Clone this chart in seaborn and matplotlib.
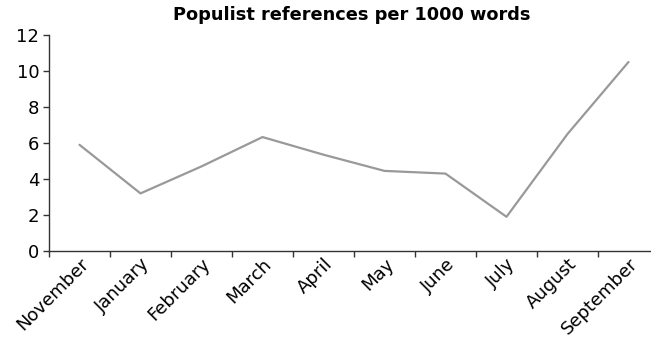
import matplotlib
matplotlib.use("Agg")
import matplotlib.pyplot as plt
import seaborn as sns
import pandas as pd
import numpy as np

months = ["November", "January", "February", "March", "April",
          "May", "June", "July", "August", "September"]
references_per_1000 = [5.9, 3.2, 4.7, 6.33, 5.35, 4.45, 4.3, 1.9, 6.5, 10.5]
y_ticks = [0, 2, 4, 6, 8, 10, 12]

df = pd.DataFrame({"month": months, "value": references_per_1000})

sns.set_theme(style="white")
plt.rcParams["font.family"] = ["DejaVu Sans"]
plt.rcParams["text.color"] = "black"

W, H = 651, 343
fig = plt.figure(figsize=(W / 100, H / 100), dpi=100)
ax = fig.add_axes([49 / W, (H - 251) / H, 610 / W, 216 / H])

sns.lineplot(data=df, x="month", y="value", sort=False, ax=ax,
             color="#999999", linewidth=1.6)

ax.set_xlim(-0.5, len(months) - 0.5)
ax.set_ylim(0, 12)
ax.set_yticks(y_ticks)
ax.set_yticklabels([str(t) for t in y_ticks], fontsize=13)

# tick marks sit on category boundaries, labels at category centres
ax.set_xticks(np.arange(len(months) + 1) - 0.5, minor=False)
ax.set_xticklabels([])
ax.set_xticks(np.arange(len(months)), minor=True)
ax.set_xticklabels(months, minor=True, rotation=45, ha="right",
                   rotation_mode="anchor", fontsize=13)
ax.tick_params(axis="x", which="minor", length=0, pad=3, labelcolor="black")
ax.tick_params(axis="x", which="major", direction="out", length=4,
               width=1, color="#333333", bottom=True)
ax.tick_params(axis="y", direction="out", length=4, width=1,
               color="#333333", left=True, pad=3, labelcolor="black")

for side in ["top", "right"]:
    ax.spines[side].set_visible(False)
for side in ["left", "bottom"]:
    ax.spines[side].set_color("#333333")
    ax.spines[side].set_linewidth(1.0)

ax.set_xlabel("")
ax.set_ylabel("")
fig.text(352 / W, 1 - 15 / H, "Populist references per 1000 words",
         ha="center", va="center", fontsize=12.8, fontweight="bold",
         color="black")

fig.savefig("out.png", dpi=100)
